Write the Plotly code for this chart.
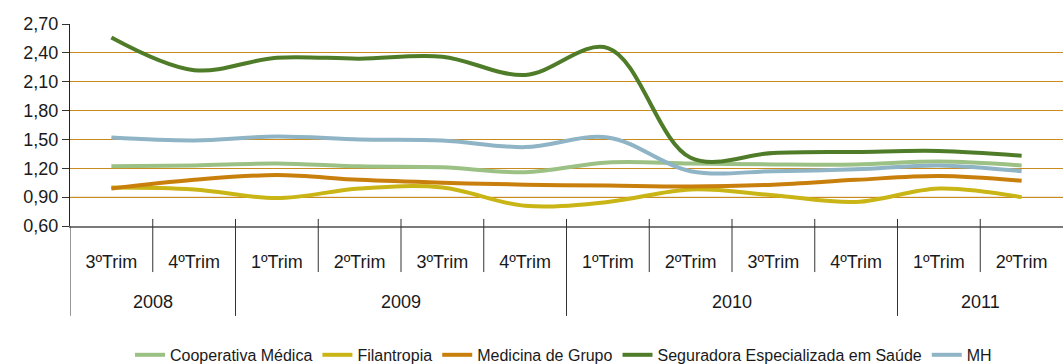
import plotly.graph_objects as go

# Quarter labels and the year each run of quarters belongs to
quarters = ["3ºTrim", "4ºTrim", "1ºTrim", "2ºTrim", "3ºTrim", "4ºTrim",
            "1ºTrim", "2ºTrim", "3ºTrim", "4ºTrim", "1ºTrim", "2ºTrim"]
years = ["2008", "2009", "2010", "2011"]
quarters_per_year = [2, 4, 4, 2]

# Series values per quarter
cooperativa_medica = [1.22, 1.23, 1.25, 1.22, 1.21, 1.16, 1.26, 1.25, 1.24, 1.24, 1.27, 1.23]
filantropia = [1.00, 0.98, 0.89, 0.99, 1.00, 0.81, 0.85, 0.98, 0.92, 0.85, 0.99, 0.90]
medicina_de_grupo = [0.99, 1.08, 1.13, 1.08, 1.05, 1.03, 1.02, 1.01, 1.03, 1.08, 1.12, 1.07]
seguradora = [2.56, 2.22, 2.35, 2.34, 2.36, 2.17, 2.45, 1.31, 1.36, 1.37, 1.38, 1.33]
mh = [1.52, 1.49, 1.53, 1.50, 1.49, 1.42, 1.52, 1.17, 1.17, 1.19, 1.23, 1.17]

y_ticks = [0.60, 0.90, 1.20, 1.50, 1.80, 2.10, 2.40, 2.70]

series = [
    ("Cooperativa Médica", cooperativa_medica, "#9cc184"),
    ("Filantropia", filantropia, "#c9b515"),
    ("Medicina de Grupo", medicina_de_grupo, "#c97f0b"),
    ("Seguradora Especializada em Saúde", seguradora, "#4f7c28"),
    ("MH", mh, "#8fb4c5"),
]

x = list(range(len(quarters)))

fig = go.Figure()
for name, values, color in series:
    fig.add_trace(go.Scatter(
        x=x, y=values, name=name, mode="lines",
        line=dict(color=color, width=4, shape="spline", smoothing=1),
        hoverinfo="skip",
    ))

font_main = "Liberation Sans, Arial, sans-serif"

# Category dividers below the axis: short between quarters, long between years
shapes = []
year_starts = set()
acc = 0
for n in quarters_per_year:
    year_starts.add(acc)
    acc += n
for i in range(len(quarters)):
    bottom = -0.445 if i in year_starts else -0.228
    top = 0 if i == 0 else 0.035
    shapes.append(dict(type="line", xref="x", yref="paper",
                       x0=i - 0.5, x1=i - 0.5, y0=bottom, y1=top,
                       line=dict(color="#333333", width=1)))

# Lighter rule at the lowest gridline above the axis
shapes.append(dict(type="line", xref="paper", yref="y", x0=0, x1=1,
                   y0=0.90, y1=0.90, layer="below",
                   line=dict(color="#dcc08f", width=1)))

# Year labels centred under their quarters
annotations = []
start = 0
for year, n in zip(years, quarters_per_year):
    annotations.append(dict(
        x=start + n / 2 - 0.5, y=-0.378, xref="x", yref="paper",
        text=year, showarrow=False, yanchor="middle",
        font=dict(family=font_main, size=18, color="#1a1a1a"),
    ))
    start += n

fig.update_layout(
    width=1063, height=364,
    margin=dict(l=70, r=0, t=24, b=138, autoexpand=False),
    paper_bgcolor="white", plot_bgcolor="white",
    separators=",.",
    shapes=shapes,
    annotations=annotations,
    showlegend=True,
    legend=dict(
        orientation="h", x=0.497, xanchor="center",
        yref="container", y=0.025, yanchor="middle",
        font=dict(family="Liberation Sans Narrow, Arial Narrow, Liberation Sans, sans-serif",
                  size=16, color="#1a1a1a"),
        itemwidth=30, tracegroupgap=0,
    ),
    xaxis=dict(
        range=[-0.5, len(quarters) - 0.5],
        tickmode="array", tickvals=x, ticktext=quarters,
        ticks="outside", ticklen=18, tickcolor="rgba(0,0,0,0)",
        showgrid=False, zeroline=False,
        showline=True, linecolor="#7a7a7a", linewidth=2,
        tickfont=dict(family=font_main, size=18, color="#1a1a1a"),
    ),
    yaxis=dict(
        range=[0.60, 2.70],
        tickmode="array", tickvals=y_ticks, tickformat=".2f",
        ticks="outside", ticklen=7, tickcolor="#333333",
        showgrid=True, gridcolor="#c98a1e", gridwidth=1,
        zeroline=False,
        showline=True, linecolor="#222222", linewidth=1,
        tickfont=dict(family=font_main, size=18, color="#1a1a1a"),
    ),
)

fig.write_html("out.html")
